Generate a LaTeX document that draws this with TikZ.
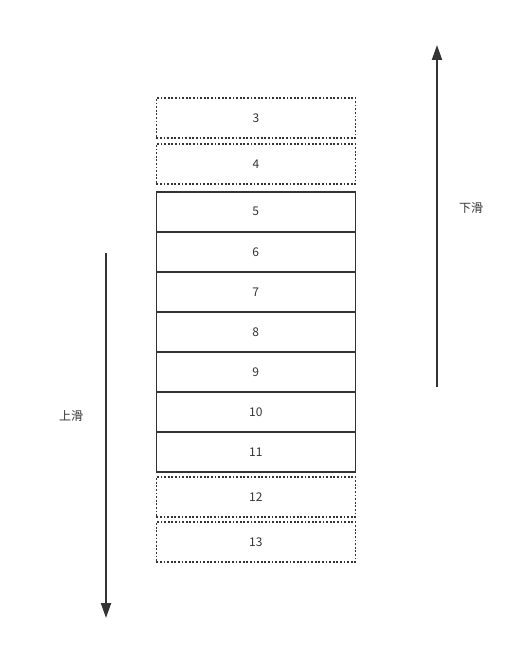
\documentclass[tikz,border=0pt]{standalone}
\usepackage{fontspec}
\setmainfont{Noto Sans CJK SC}
\usetikzlibrary{arrows.meta}
\definecolor{ink}{HTML}{333333}
\begin{document}
\begin{tikzpicture}[x=1pt,y=-1pt,
  cell/.style={draw=ink,line width=1.5pt,minimum width=199pt,minimum height=40pt,inner sep=0pt,anchor=north west,font=\fontsize{12pt}{14pt}\selectfont,text=ink},
  ghost/.style={cell,line width=1.8pt,dash pattern=on 1.8pt off 1.8pt},
  lbl/.style={font=\fontsize{12pt}{14pt}\selectfont,text=ink},
  swipe/.style={draw=ink,line width=2pt,-{Triangle[length=15pt,width=10pt]}}]
\useasboundingbox (0,0) rectangle (528,647);
\node[ghost] (c3) at (155.5,97) {3};
\node[ghost] (c4) at (155.5,143) {4};
\node[cell] (c5) at (155.5,191) {5};
\node[cell] (c6) at (155.5,231) {6};
\node[cell] (c7) at (155.5,271) {7};
\node[cell] (c8) at (155.5,311) {8};
\node[cell] (c9) at (155.5,351) {9};
\node[cell] (c10) at (155.5,391) {10};
\node[cell] (c11) at (155.5,431) {11};
\node[ghost] (c12) at (155.5,476) {12};
\node[ghost] (c13) at (155.5,521) {13};
\coordinate (ls) at (106,253);
\coordinate (le) at (106,618);
\coordinate (rs) at (437,387);
\coordinate (re) at (437,45);
\draw[swipe] (ls) -- (le);
\draw[swipe] (rs) -- (re);
\node[lbl] (up) at (71,416) {上滑};
\node[lbl] (down) at (471,208) {下滑};
\end{tikzpicture}
\end{document}
